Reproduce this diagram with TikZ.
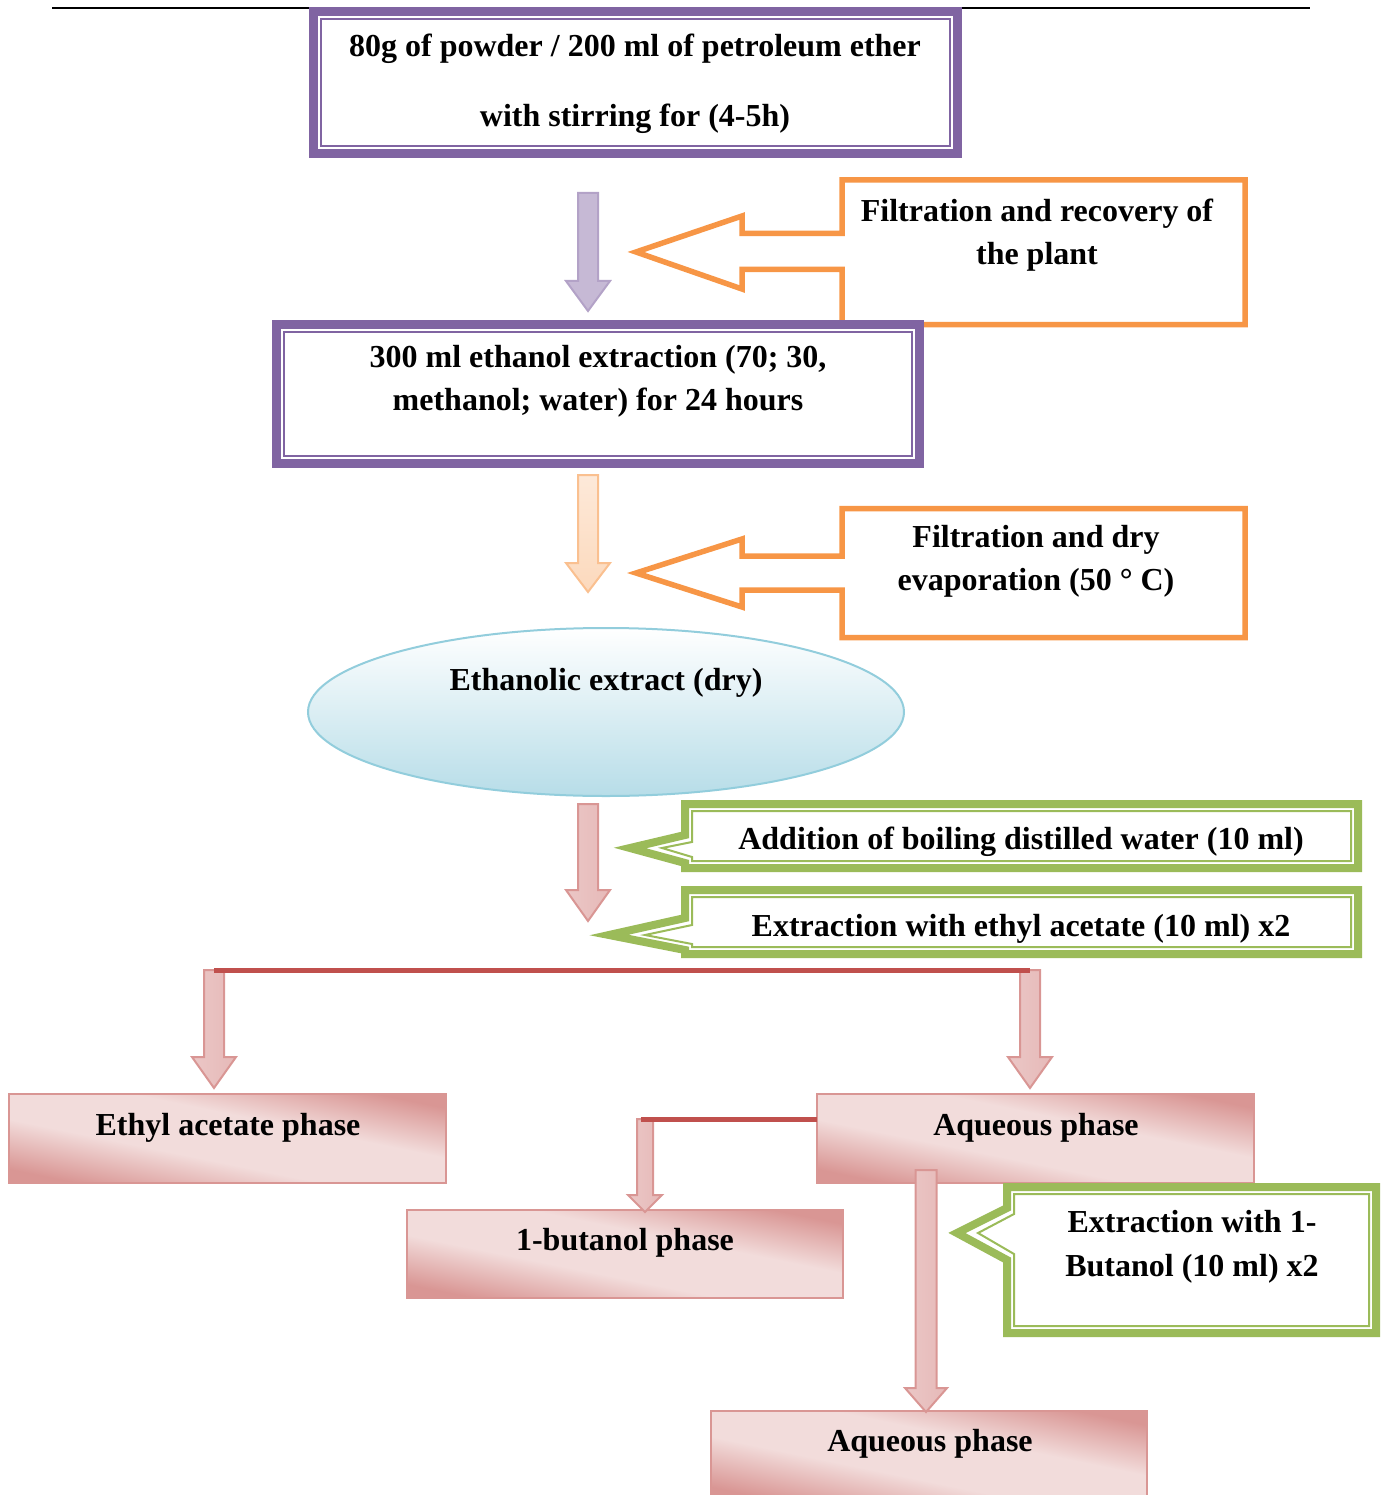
\documentclass[tikz,border=0pt]{standalone}
\usepackage{fontspec}
\setmainfont{Liberation Serif}
\usetikzlibrary{shapes.geometric}
\definecolor{purp}{HTML}{8064A2}
\definecolor{lav}{HTML}{B3A2C7}
\definecolor{lavl}{HTML}{E6E0EC}
\definecolor{orng}{HTML}{F79646}
\definecolor{peach}{HTML}{FAC090}
\definecolor{peachl}{HTML}{FDE9D9}
\definecolor{grn}{HTML}{9BBB59}
\definecolor{pinkd}{HTML}{D99694}
\definecolor{pinkl}{HTML}{F2DCDB}
\definecolor{pinkm}{HTML}{E6B9B8}
\definecolor{redl}{HTML}{C0504D}
\definecolor{blued}{HTML}{92CDDC}
\definecolor{bluef}{HTML}{B7DDE8}
\pgfdeclareverticalshading{phaseshade}{100bp}{color(0bp)=(pinkd); color(20bp)=(pinkd); color(40bp)=(pinkl); color(60bp)=(pinkl); color(80bp)=(pinkd); color(100bp)=(pinkd)}
\newcommand{\blkarrow}[7]{\path[#1] ({#2-#6},#3) -- ({#2+#6},#3) -- ({#2+#6},#4) -- ({#2+#7},#4) -- (#2,#5) -- ({#2-#7},#4) -- ({#2-#6},#4) -- cycle;}
% name, cx, cy, w, h
\newcommand{\phasebox}[5]{%
  \shade[shading=phaseshade, shading angle=-45, transform canvas={shift={(#2,#3)}, xscale=#4/#5}] ({-#5/2},{-#5/2}) rectangle ({#5/2},{#5/2});
  \node[phase, minimum width=#4, minimum height=#5] (#1) at (#2,#3) {};}
\tikzset{
  txt/.style={font=\bfseries\fontsize{32}{38}\selectfont, align=center, inner sep=0pt, text=black},
  pbox/.style={draw=purp, line width=9pt, fill=white, outer sep=0pt, inner sep=0pt},
  pinner/.style={draw=purp, line width=2pt},
  ocall/.style={draw=orng, line width=5.5pt, fill=white, line join=miter},
  gouter/.style={draw=grn, line width=8pt, fill=white, line join=miter},
  ginner/.style={draw=grn, line width=2pt, line join=miter},
  phase/.style={draw=pinkd, line width=2pt, outer sep=0pt, inner sep=0pt},
  parrow/.style={draw=lav, line width=2pt, left color=lav!75, middle color=lavl!50, right color=lav!75},
  oarrow/.style={draw=peach, line width=2pt, top color=peachl, bottom color=peach!60},
  rarrow/.style={draw=pinkd, line width=2pt, left color=pinkm!80, middle color=pinkl!70, right color=pinkm},
  redline/.style={draw=redl, line width=5pt},
}
\begin{document}
\begin{tikzpicture}[x=1pt,y=-1pt]
\useasboundingbox (0,0) rectangle (1386,1495);
% header rule
\draw[line width=1.5pt] (52,8) -- (1310,8);

% box 1
\node[pbox, minimum width=644, minimum height=142] (box1) at (635.5,82.5) {};
\draw[pinner] ([xshift=7.5pt,yshift=-7.5pt]box1.north west) rectangle ([xshift=-7.5pt,yshift=7.5pt]box1.south east);
\node[txt] (t1) at (635,84) {80g of powder / 200 ml of petroleum ether\\[32pt]with stirring for (4-5h)};

% arrow 1
\blkarrow{parrow}{588}{193}{281}{311}{10}{22}

% orange callout 1
\path[ocall] (842,180) -- (1245,180) -- (1245,324.5) -- (842,324.5) -- (842,269.5) -- (742,269.5) -- (742,289) -- (636,252) -- (742,216) -- (742,233.5) -- (842,233.5) -- cycle;
\node[txt] (t2) at (1037,235) {Filtration and recovery of\\[5pt]the plant};

% box 2
\node[pbox, minimum width=643, minimum height=139] (box2) at (598,394) {};
\draw[pinner] ([xshift=7.5pt,yshift=-7.5pt]box2.north west) rectangle ([xshift=-7.5pt,yshift=7.5pt]box2.south east);
\node[txt] (t3) at (598,381) {300 ml ethanol extraction (70; 30,\\[5pt]methanol; water) for 24 hours};

% arrow 2
\blkarrow{oarrow}{588}{475}{563}{592}{10}{22}

% orange callout 2
\path[ocall] (842,508.5) -- (1245,508.5) -- (1245,637.5) -- (842,637.5) -- (842,590) -- (742,590) -- (742,607) -- (636,573) -- (742,539) -- (742,556) -- (842,556) -- cycle;
\node[txt] (t4) at (1036,561) {Filtration and dry\\[5pt]evaporation (50 ° C)};

% ellipse
\node[ellipse, draw=blued, line width=2pt, top color=white, bottom color=bluef, minimum width=596, minimum height=168, inner sep=0pt] (ell) at (606,712) {};
\node[txt] (t5) at (606,683) {Ethanolic extract (dry)};

% arrow 3
\blkarrow{rarrow}{588}{804}{890}{921}{10}{22}

% green callout 1
\path[gouter] (685,804) -- (1358,804) -- (1358,868) -- (685,868) -- (685,863) -- (630,848) -- (685,835) -- cycle;
\path[ginner] (692,811) -- (1351,811) -- (1351,861) -- (692,861) -- (692,857) -- (662,848) -- (692,842) -- cycle;
\node[txt] (t6) at (1021,842) {Addition of boiling distilled water (10 ml)};

% green callout 2
\path[gouter] (685,890) -- (1358,890) -- (1358,954) -- (685,954) -- (685,950) -- (609,935) -- (685,918) -- cycle;
\path[ginner] (692,897) -- (1351,897) -- (1351,947) -- (692,947) -- (692,944) -- (645,935) -- (692,925) -- cycle;
\node[txt] (t7) at (1021,929) {Extraction with ethyl acetate (10 ml) x2};

% split arrows
\blkarrow{rarrow}{214}{970}{1057}{1088}{10}{22}
\blkarrow{rarrow}{1030}{970}{1057}{1088}{10}{22}
\draw[redline] (214,970) -- (1030,970);

% phase boxes
\phasebox{eap}{227.5}{1138.5}{437}{89}
\node[txt] (t8) at (228,1128) {Ethyl acetate phase};

\phasebox{aq1}{1035.5}{1138.5}{437}{89}
\node[txt] (t9) at (1036,1128) {Aqueous phase};

\phasebox{but}{625}{1254}{436}{88}
\node[txt] (t10) at (625,1243) {1-butanol phase};

\phasebox{aq2}{929}{1456}{436}{90}
\node[txt] (t11) at (930,1444) {Aqueous phase};

% butanol branch
\blkarrow{rarrow}{645}{1119}{1195}{1212}{8}{17}
\draw[redline] (aq1.west |- 0,1119) -- (641,1119);

% long arrow
\blkarrow{rarrow}{926}{1170}{1388}{1412}{10.5}{21}

% green callout 3
\path[gouter] (1007,1187) -- (1376,1187) -- (1376,1333) -- (1007,1333) -- (1007,1260) -- (957,1233) -- (1007,1208) -- cycle;
\path[ginner] (1014,1194) -- (1369,1194) -- (1369,1326) -- (1014,1326) -- (1014,1254) -- (978,1233) -- (1014,1214) -- cycle;
\node[txt] (t12) at (1192,1247) {Extraction with 1-\\[6pt]Butanol (10 ml) x2};
\end{tikzpicture}
\end{document}
